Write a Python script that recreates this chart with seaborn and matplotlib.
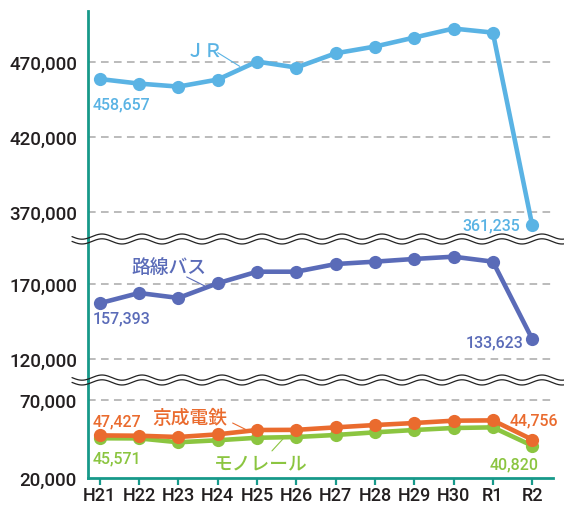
import numpy as np
import pandas as pd
import matplotlib
matplotlib.use("Agg")
import matplotlib.pyplot as plt
import seaborn as sns
from matplotlib.lines import Line2D

years = ["H21", "H22", "H23", "H24", "H25", "H26", "H27", "H28", "H29", "H30", "R1", "R2"]
jr = [458657, 455600, 453600, 458300, 470300, 466300, 475800, 480300, 486300, 492300, 489600, 361235]
bus = [157393, 164200, 160900, 170700, 178400, 178400, 183500, 185100, 186900, 188400, 185100, 133623]
keisei = [47427, 47220, 46400, 48100, 50900, 51000, 52600, 54100, 55400, 56900, 57100, 44756]
monorail = [45571, 45500, 43000, 44300, 45900, 46400, 47700, 49400, 50900, 52200, 52600, 40820]

C_JR = "#5ab3e4"
C_BUS = "#5a6bb8"
C_KEI = "#ea6b2e"
C_MONO = "#8bc540"
TEAL = "#17998a"
TXT = "#231f20"
GRID = "#a8a8a8"

sns.set_theme(style="white")
plt.rcParams["font.family"] = ["Roboto", "Noto Sans CJK JP", "DejaVu Sans"]
JP = ["Noto Sans CJK JP", "DejaVu Sans"]

W, H = 564, 506
fig = plt.figure(figsize=(W / 100, H / 100), dpi=100)

def rect(top, bottom, left=88, right=553):
    return [left / W, (H - bottom) / H, (right - left) / W, (bottom - top) / H]

ax1 = fig.add_axes(rect(12, 240))
ax2 = fig.add_axes(rect(240, 381))
ax3 = fig.add_axes(rect(381, 479))

df = pd.DataFrame({"year": years, "jr": jr, "bus": bus, "keisei": keisei, "mono": monorail})

line_kw = dict(marker="o", markersize=9.5, linewidth=3.3, markeredgewidth=0)
sns.lineplot(data=df, x="year", y="jr", ax=ax1, color=C_JR, **line_kw)
sns.lineplot(data=df, x="year", y="bus", ax=ax2, color=C_BUS, **line_kw)
sns.lineplot(data=df, x="year", y="mono", ax=ax3, color=C_MONO, **line_kw)
sns.lineplot(data=df, x="year", y="keisei", ax=ax3, color=C_KEI, **line_kw)

limits = [(ax1, (352000, 504000), [370000, 420000, 470000]),
          (ax2, (106200, 200200), [120000, 170000]),
          (ax3, (20000, 83100), [20000, 70000])]
for ax, yl, ticks in limits:
    ax.set_xlim(-0.3, 11.53)
    ax.set_ylim(*yl)
    ax.set_yticks(ticks)
    ax.set_yticklabels([f"{t:,}" for t in ticks], fontsize=13.5, color=TXT, fontweight="medium")
    ax.set_xlabel("")
    ax.set_ylabel("")
    for s in ["top", "right", "bottom"]:
        ax.spines[s].set_visible(False)
    ax.spines["left"].set_color(TEAL)
    ax.spines["left"].set_linewidth(2)
    ax.tick_params(axis="y", length=0, pad=8)
    for t in ticks:
        if t != 20000:
            ax.axhline(t, color=GRID, linestyle=(0, (5, 3.5)), linewidth=1.1, zorder=0)
    ax.set_facecolor("none")

for ax in (ax1, ax2):
    ax.set_xticks([])

ax3.spines["bottom"].set_visible(True)
ax3.spines["bottom"].set_color(TEAL)
ax3.spines["bottom"].set_linewidth(2)
ax3.set_xticks(range(len(years)))
ax3.set_xticklabels(years, fontsize=13, color=TXT, fontweight="medium")
ax3.tick_params(axis="x", length=5, width=1.6, color=TEAL, direction="out", pad=0.5, bottom=True)

# data labels
lab = dict(fontsize=11.5, fontweight="medium")
ax1.text(-0.18, 441800, "458,657", color=C_JR, ha="left", va="center", **lab)
ax1.text(10.69, 361235, "361,235", color=C_JR, ha="right", va="center", **lab)
ax2.text(-0.18, 147300, "157,393", color=C_BUS, ha="left", va="center", **lab)
ax2.text(10.79, 131300, "133,623", color=C_BUS, ha="right", va="center", **lab)
ax3.text(-0.18, 56870, "47,427", color=C_KEI, ha="left", va="center", **lab)
ax3.text(-0.18, 32870, "45,571", color=C_MONO, ha="left", va="center", **lab)
ax3.text(11.65, 57520, "44,756", color=C_KEI, ha="right", va="center", **lab)
ax3.text(11.17, 29000, "40,820", color=C_MONO, ha="right", va="center", **lab)

# series labels with leader lines
jl = dict(ha="center", va="center", fontsize=13.5, family=JP, fontweight="medium")
ax1.text(2.67, 478000, "ＪＲ", color=C_JR, **jl)
ax1.plot([3.0, 3.56], [476200, 467100], color=C_JR, linewidth=0.8)
ax2.text(1.76, 182200, "路線バス", color=C_BUS, **jl)
ax2.plot([2.21, 2.67], [174900, 168900], color=C_BUS, linewidth=0.8)
ax3.text(2.29, 59250, "京成電鉄", color=C_KEI, **jl)
ax3.plot([3.38, 3.74], [55400, 50900], color=C_KEI, linewidth=0.8)
ax3.text(4.10, 29650, "モノレール", color=C_MONO, **jl)
ax3.plot([4.38, 4.66], [37440, 45160], color=C_MONO, linewidth=0.8)

# wavy break marks
xs = np.linspace(72, 564, 800)
for yc in (240, 381):
    for off in (-2.4, 2.4):
        ys = yc + off + 2.6 * np.sin(2 * np.pi * (xs - 72) / 40)
        fig.add_artist(Line2D(xs / W, 1 - ys / H, color="#222222", linewidth=0.9))

fig.savefig("out.png", dpi=100)
